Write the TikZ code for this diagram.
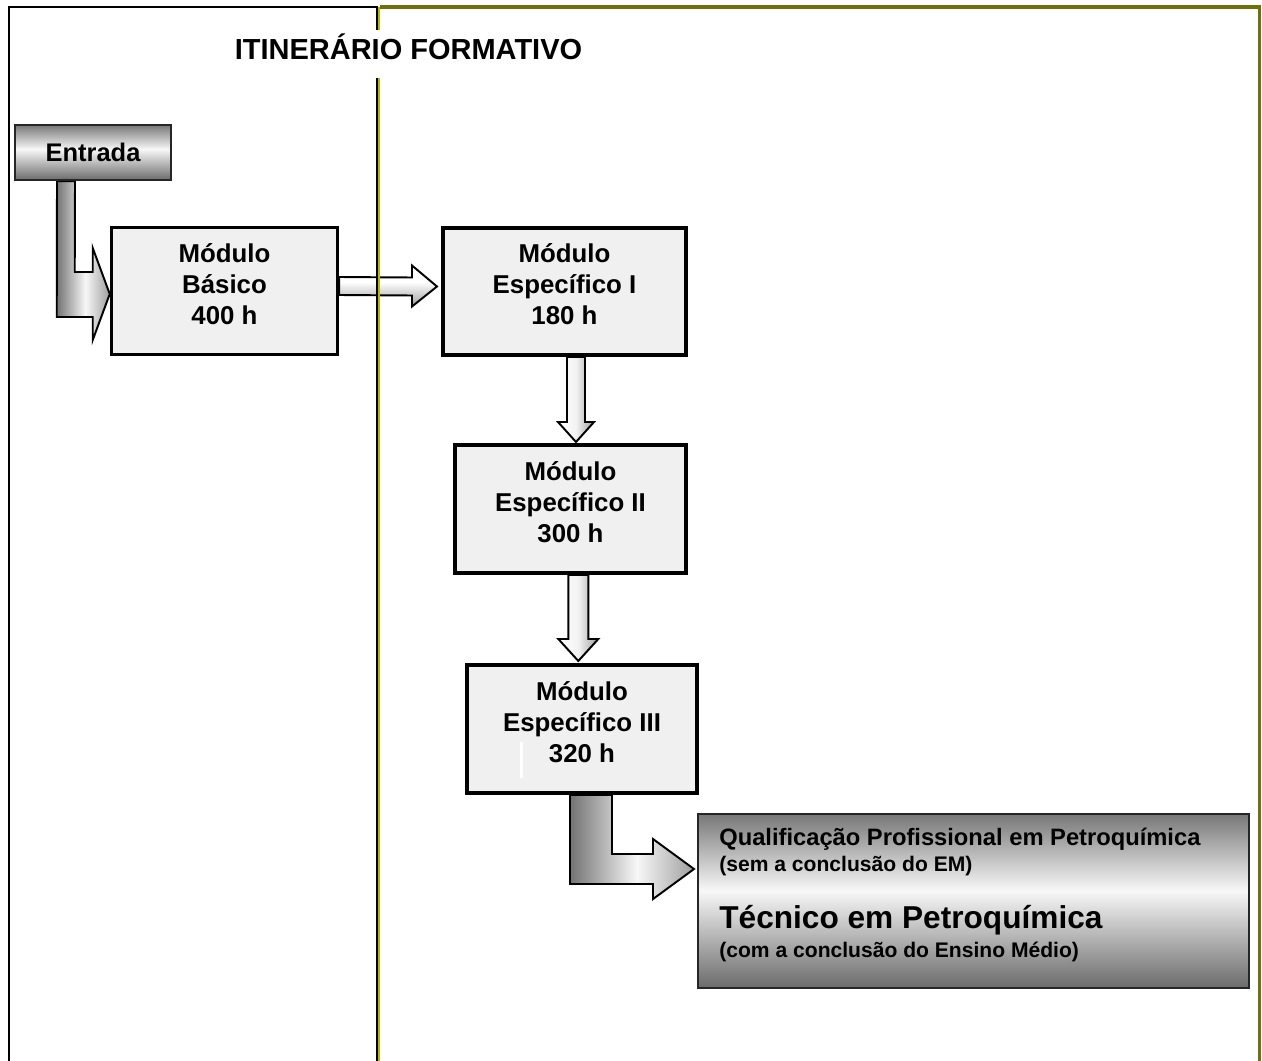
\documentclass[tikz,border=0pt]{standalone}
\usepackage{fontspec}
\setmainfont{Liberation Sans}
\usetikzlibrary{calc}
\newlength\pxu
\setlength\pxu{0.02cm}
\definecolor{boxfill}{HTML}{F0F0F0}
\definecolor{olivefr}{HTML}{707008}
\definecolor{divyel}{HTML}{B8B800}
\definecolor{mdark}{gray}{0.42}
\definecolor{mtop}{gray}{0.47}
\definecolor{mlight}{gray}{0.97}
\definecolor{hleft}{gray}{0.45}
\definecolor{hright}{gray}{0.62}
\definecolor{wgray}{gray}{0.62}
\pgfdeclareverticalshading{metalv}{100bp}{color(0bp)=(mdark); color(25bp)=(mdark); color(53bp)=(mlight); color(75bp)=(mtop); color(100bp)=(mtop)}
\pgfdeclarehorizontalshading{metalh}{100bp}{color(0bp)=(hleft); color(25bp)=(hleft); color(52bp)=(mlight); color(75bp)=(hright); color(100bp)=(hright)}
\pgfdeclareverticalshading{whitev}{100bp}{color(0bp)=(wgray); color(25bp)=(wgray); color(55bp)=(white); color(100bp)=(white)}
\pgfdeclarehorizontalshading{whiteh}{100bp}{color(0bp)=(white); color(25bp)=(white); color(50bp)=(white!95!black); color(75bp)=(wgray); color(100bp)=(wgray)}
\pgfdeclarelayer{bg}
\pgfsetlayers{bg,main}
\newcommand\modfont{\fontsize{14.7}{17.6}\selectfont\bfseries}
\begin{document}
\begin{tikzpicture}[x=0.02cm,y=-0.02cm,
  modbox/.style={draw=black, line width=2pt, fill=boxfill, inner sep=0pt},
  modtext/.style={font=\modfont, align=center, inner sep=0pt},
  blockarrow/.style={draw=black, line width=1.1pt, line join=miter},
  qtext/.style={anchor=base west, inner sep=0pt},
]
\useasboundingbox (0,0) rectangle (1262,1061);

% title
\node[font=\fontsize{16.5}{19}\selectfont\bfseries, fill=white, inner xsep=2pt, inner ysep=0pt,
      text height=17pt, text depth=10.2pt, anchor=base] (title) at (408.5,60) {ITINERÁRIO FORMATIVO};

% boxes
\node[draw=black!85, line width=1.2pt, shade, shading=metalv, minimum width=156\pxu, minimum height=55\pxu,
      inner sep=0pt, font=\fontsize{14.5}{17}\selectfont\bfseries] (ent) at (93,152.5) {Entrada};

\node[modbox, minimum width=226\pxu, minimum height=127\pxu] (mb) at (224.5,291) {};
\node[modtext] (mbt) at ($(mb.center)+(0,-7)$) {Módulo\\Básico\\400 h};

\node[modbox, minimum width=243.5\pxu, minimum height=127.5\pxu] (me1) at (564.5,291.5) {};
\node[modtext] (me1t) at ($(me1.center)+(0,-7)$) {Módulo\\Específico I\\180 h};

\node[modbox, minimum width=231.5\pxu, minimum height=128.5\pxu] (me2) at (570.5,509) {};
\node[modtext] (me2t) at ($(me2.center)+(0,-7)$) {Módulo\\Específico II\\300 h};

\node[modbox, minimum width=230.5\pxu, minimum height=128.5\pxu] (me3) at (582,729) {};
\node[modtext] (me3t) at ($(me3.center)+(0,-7)$) {Módulo\\Específico III\\320 h};
\draw[white, line width=1.2pt] (521.5,742) -- (521.5,778);

\node[draw=black!85, line width=1.4pt, shade, shading=metalv, minimum width=550.5\pxu, minimum height=173.5\pxu,
      inner sep=0pt] (qp) at (973.5,901) {};
\node[qtext, font=\fontsize{13.5}{16}\selectfont\bfseries] (q1) at (719,845.5) {Qualificação Profissional em Petroquímica};
\node[qtext, font=\fontsize{12}{14}\selectfont\bfseries] (q2) at (719,871) {(sem a conclusão do EM)};
\node[qtext, font=\fontsize{18}{21}\selectfont\bfseries] (q3) at (719,928) {Técnico em Petroquímica};
\node[qtext, font=\fontsize{12}{14}\selectfont\bfseries] (q4) at (719,957) {(com a conclusão do Ensino Médio)};

\begin{pgfonlayer}{bg}
% Entrada -> Modulo Basico (bent arrow)
\coordinate (es) at (ent.south);
\coordinate (t1) at ($(mb.west)+(0,3)$);
\draw[blockarrow, shade, shading=metalh]
  ($(es)+(-36,0)$) -- ($(es)+(-18,0)$) -- ($(t1)+(-35,-22)$) -- ($(t1)+(-17,-22)$) -- ($(t1)+(-17,-46)$)
  -- (t1) -- ($(t1)+(-17,46)$) -- ($(t1)+(-17,23)$) -- ($(t1)+(-53,23)$) -- cycle;

% Basico -> Especifico I
\coordinate (s2) at ($(mb.east)+(0,-5)$);
\coordinate (e2) at ($(me1.west)+(-4,-5)$);
\draw[blockarrow, shade, shading=whitev]
  ($(s2)+(0,-9)$) -- ($(e2)+(-25,-9)$) -- ($(e2)+(-25,-21)$) -- (e2) -- ($(e2)+(-25,20)$)
  -- ($(e2)+(-25,9)$) -- ($(s2)+(0,9)$) -- cycle;

% Especifico I -> II
\coordinate (e3) at ($(me2.north)+(5.5,-1)$);
\coordinate (s3) at (me1.south -| e3);
\draw[blockarrow, shade, shading=whiteh]
  ($(s3)+(-9,0)$) -- ($(e3)+(-9,-20)$) -- ($(e3)+(-18,-20)$) -- (e3) -- ($(e3)+(18,-20)$)
  -- ($(e3)+(9,-20)$) -- ($(s3)+(9,0)$) -- cycle;

% Especifico II -> III
\coordinate (e4) at ($(me3.north)+(-3.7,-2)$);
\coordinate (s4) at (me2.south -| e4);
\draw[blockarrow, shade, shading=whiteh]
  ($(s4)+(-10,0)$) -- ($(e4)+(-10,-22)$) -- ($(e4)+(-20,-22)$) -- (e4) -- ($(e4)+(20,-22)$)
  -- ($(e4)+(10,-22)$) -- ($(s4)+(10,0)$) -- cycle;

% Especifico III -> Qualificacao (bent arrow)
\coordinate (s5) at ($(me3.south)+(9,0)$);
\coordinate (t5) at ($(qp.north west)+(-3,56)$);
\draw[blockarrow, shade, shading=metalh]
  ($(s5)+(-21,0)$) -- ($(s5)+(21,0)$) -- ($(t5)+(-82,-15)$) -- ($(t5)+(-41,-15)$) -- ($(t5)+(-41,-30)$)
  -- (t5) -- ($(t5)+(-41,30)$) -- ($(t5)+(-41,15)$) -- ($(t5)+(-124,15)$) -- cycle;

% frames
\draw[line width=1.7pt, black] (9,1066) -- (9,7) -- (377,7) -- (377,1066);
\draw[line width=1.8pt, olivefr] (379.5,7) -- (1259.5,7) -- (1259.5,1066);
\draw[line width=0.8pt, divyel] (379,7.5) -- (379,1066);
\end{pgfonlayer}
\end{tikzpicture}
\end{document}
